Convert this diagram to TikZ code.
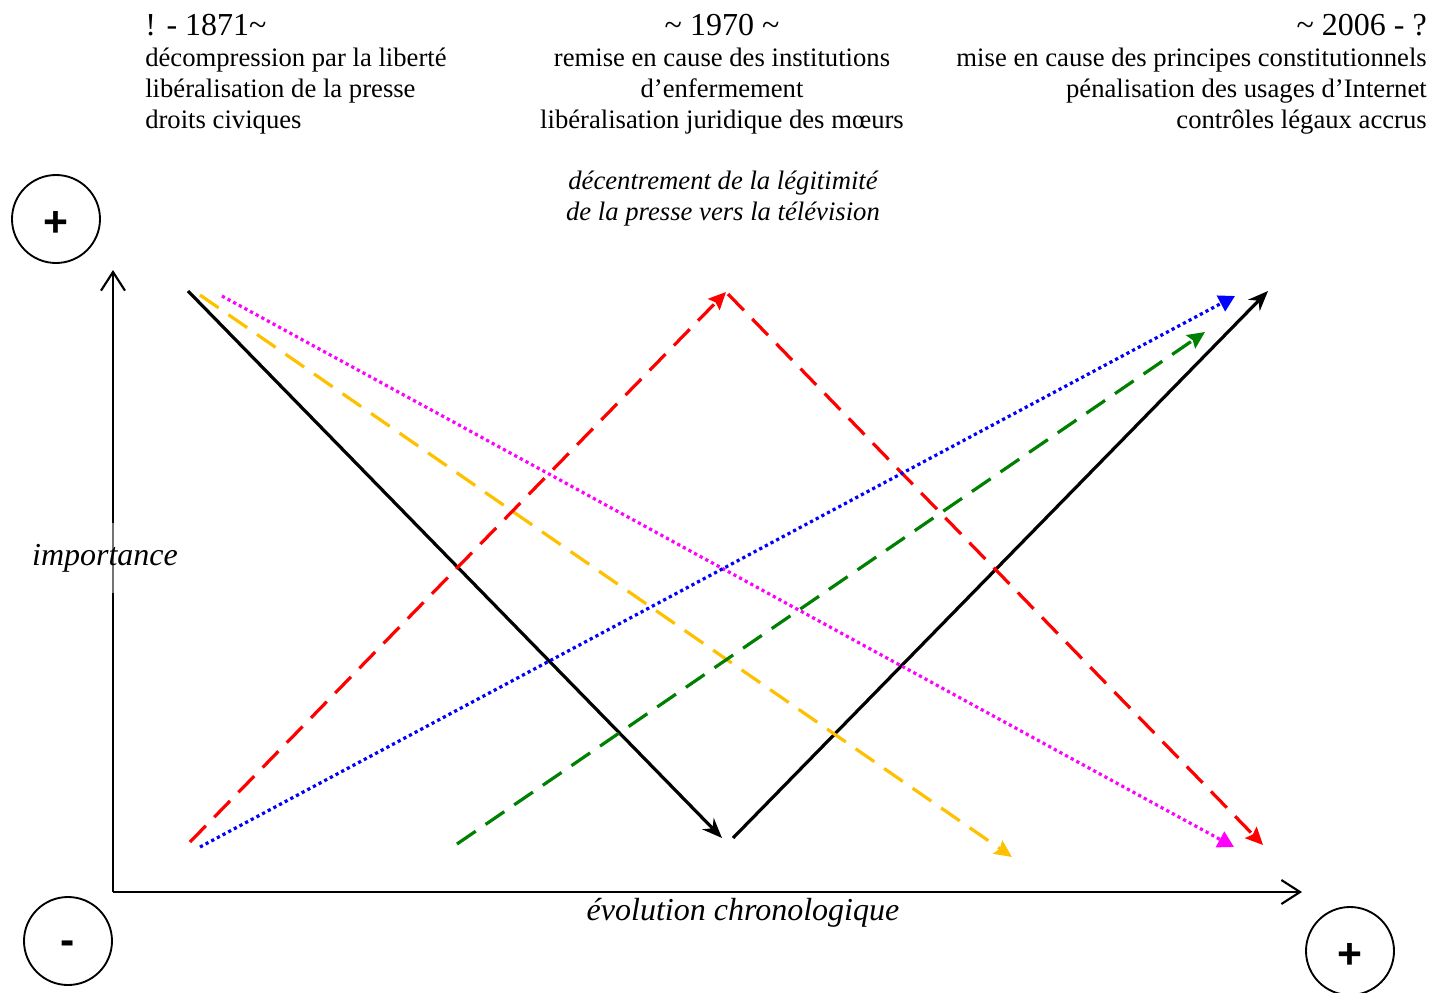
\documentclass[tikz,border=0pt]{standalone}
\usepackage{fontspec}
\setmainfont{Liberation Serif}
\newfontfamily\signfont{Liberation Sans}
\usetikzlibrary{arrows.meta}
\definecolor{cgold}{RGB}{255,192,0}
\definecolor{cgreen}{RGB}{0,128,0}
\definecolor{cmag}{RGB}{255,0,255}
\tikzset{
  body/.style={inner sep=0pt, font=\fontsize{20}{24}\selectfont},
  yearlbl/.style={inner sep=0pt, font=\fontsize{24}{28}\selectfont},
  itlbl/.style={inner sep=0pt, font=\fontsize{20}{24}\selectfont\itshape},
  axlbl/.style={inner sep=0pt, font=\fontsize{24}{28}\selectfont\itshape},
  signcircle/.style={draw, circle, line width=1.4pt, minimum size=66pt, inner sep=0pt, text height=0pt, text depth=0pt, font=\signfont\bfseries\fontsize{32}{32}\selectfont},
  axis/.style={line width=2.2pt, -{Straight Barb[length=14pt,width=18pt,line width=1.6pt]}},
  solidarr/.style={line width=2.4pt, -{Stealth[length=15pt,width=12pt]}},
  dasharr/.style={line width=2.4pt, dash pattern=on 17pt off 9pt, -{Stealth[length=13pt,width=12pt,inset=2pt]}},
  dotarr/.style={line width=2.4pt, dash pattern=on 2.4pt off 2.4pt, -{Triangle[length=12pt,width=13pt]}},
}
\begin{document}
\begin{tikzpicture}[x=0.75pt,y=-0.75pt]
\useasboundingbox (0,0) rectangle (1445,992);

% top-left block
\node[yearlbl, anchor=base west] (y1871) at (145,35) {! - 1871\char`\~};
\node[body, anchor=base west] (l1a) at (145,66) {décompression par la liberté};
\node[body, anchor=base west] (l1b) at (145,97) {libéralisation de la presse};
\node[body, anchor=base west] (l1c) at (145,128) {droits civiques};

% middle block
\node[yearlbl, anchor=base] (y1970) at (722,35) {\char`\~{} 1970 \char`\~};
\node[body, anchor=base] (l2a) at (722,66) {remise en cause des institutions};
\node[body, anchor=base] (l2b) at (722,97) {d’enfermement};
\node[body, anchor=base] (l2c) at (722,128) {libéralisation juridique des mœurs};
\node[itlbl, anchor=base] (l2d) at (723,189) {décentrement de la légitimité};
\node[itlbl, anchor=base] (l2e) at (723,220) {de la presse vers la télévision};

% right block
\node[yearlbl, anchor=base east] (y2006) at (1427,35) {\char`\~{} 2006 - ?};
\node[body, anchor=base east] (l3a) at (1427,66) {mise en cause des principes constitutionnels};
\node[body, anchor=base east] (l3b) at (1427,97) {pénalisation des usages d’Internet};
\node[body, anchor=base east] (l3c) at (1427,128) {contrôles légaux accrus};

% sign circles
\node[signcircle] (ctop) at (56,219) {\raisebox{-13pt}[0pt][0pt]{+}};
\node[signcircle] (cmin) at (68,941) {\raisebox{-10pt}[0pt][0pt]{-}};
\node[signcircle] (cright) at (1350,951) {\raisebox{-13pt}[0pt][0pt]{+}};

% axes
\coordinate (origin) at (113,892);
\coordinate (ytop) at (113,270);
\coordinate (xend) at (1302,892);
\draw[axis] (origin) -- (ytop);
\draw[axis] (origin) -- (xend);

\node[axlbl, fill=white, fill opacity=0.45, text opacity=1, minimum height=52pt, inner xsep=0pt] (imp) at (105,558) {importance};
\node[axlbl, anchor=base] (evol) at (743,920) {évolution chronologique};

% coordinates for trend lines
\coordinate (k1s) at (188,291);
\coordinate (k1e) at (722,838);
\coordinate (k2s) at (733,838);
\coordinate (k2e) at (1268,291);
\coordinate (ys) at (200,295);
\coordinate (ye) at (1012,857);
\coordinate (ms) at (222,296);
\coordinate (me) at (1234,847);
\coordinate (r1s) at (190,842);
\coordinate (r1e) at (726,292);
\coordinate (r2s) at (728,294);
\coordinate (r2e) at (1263,845);
\coordinate (bs) at (200,847);
\coordinate (be) at (1235,296);
\coordinate (gs) at (457,844);
\coordinate (ge) at (1205,332);

\draw[solidarr, black] (k1s) -- (k1e);
\draw[solidarr, black] (k2s) -- (k2e);
\draw[dasharr, cgold] (ys) -- (ye);
\draw[dotarr, cmag] (ms) -- (me);
\draw[dasharr, red] (r1s) -- (r1e);
\draw[dasharr, red] (r2s) -- (r2e);
\draw[dotarr, blue] (bs) -- (be);
\draw[dasharr, cgreen] (gs) -- (ge);
\end{tikzpicture}
\end{document}
